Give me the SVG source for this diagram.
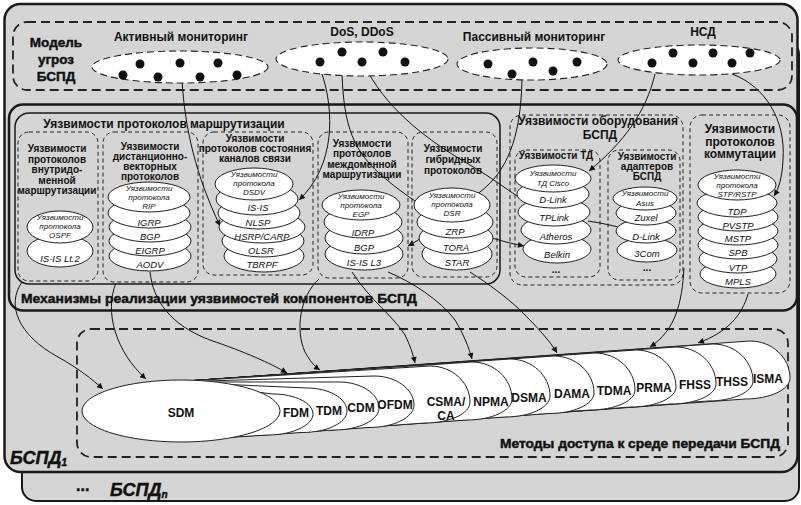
<svg xmlns="http://www.w3.org/2000/svg" width="801" height="505" viewBox="0 0 801 505">
<defs>
<style>
.bx{fill:#d5d5d5;stroke:#1a1a1a}
.ln{fill:none;stroke:#1a1a1a}
.dash{fill:none;stroke:#222;stroke-width:1;stroke-dasharray:4 3}
.dash2{fill:none;stroke:#222;stroke-width:1.8;stroke-dasharray:9 5}
.dash3{fill:#fff;stroke:#222;stroke-width:1.1;stroke-dasharray:7 4}
.st{fill:#fff;stroke:#222;stroke-width:1}
.te{font-family:"Liberation Sans",Arial,sans-serif;font-style:italic;font-size:9.5px;text-anchor:middle;fill:#111}
.tm{font-family:"Liberation Sans",Arial,sans-serif;font-style:italic;font-size:8px;text-anchor:middle;fill:#111}
.hd{font-family:"Liberation Sans",Arial,sans-serif;font-weight:bold;font-size:10px;text-anchor:middle;fill:#111}
.ti{font-family:"Liberation Sans",Arial,sans-serif;font-weight:bold;font-size:12px;text-anchor:middle;fill:#111}
.big{font-family:"Liberation Sans",Arial,sans-serif;font-weight:bold;fill:#111;stroke:#111;stroke-width:0.45}
.ac{font-family:"Liberation Sans",Arial,sans-serif;font-weight:bold;font-size:12px;text-anchor:middle;fill:#111}
.cn{fill:none;stroke:#111;stroke-width:1}
.dot{fill:#111}
</style>
<marker id="ah" viewBox="0 0 10 10" refX="10" refY="5" markerWidth="8" markerHeight="6" orient="auto" markerUnits="userSpaceOnUse"><path d="M0,0 L10,5 L0,10 z" fill="#111"/></marker>
</defs>
<rect x="0" y="0" width="801" height="505" fill="#fff"/>

<g id="bspd-n">
<rect class="bx" x="22" y="40" width="777" height="461" rx="14" stroke-width="2"/>
<text class="big" x="76" y="491" font-size="16">...</text>
<text class="big" x="110" y="496" font-size="18" font-style="italic">БСПД<tspan font-size="10" dy="2">n</tspan></text>
</g>

<g id="bspd-1">
<rect class="bx" x="4.5" y="4" width="793" height="468" rx="16" stroke-width="2.5"/>
<text class="big" x="10" y="464" font-size="18" font-style="italic">БСПД<tspan font-size="10" dy="2">1</tspan></text>
</g>

<g id="threat-model">
<rect class="dash2" x="13" y="22" width="779" height="68" rx="14"/>
<text class="big" x="56" y="47" font-size="13.5" text-anchor="middle">Модель</text>
<text class="big" x="56" y="64" font-size="13.5" text-anchor="middle">угроз</text>
<text class="big" x="56" y="81" font-size="13.5" text-anchor="middle">БСПД</text>
</g>

<g id="mechanisms">
<rect class="ln" x="9" y="104.5" width="788" height="206" rx="14" stroke-width="2.5"/>
<text class="big" x="21" y="303" font-size="13.5" textLength="396" lengthAdjust="spacingAndGlyphs">Механизмы реализации уязвимостей компонентов БСПД</text>
</g>

<g id="routing">
<rect class="ln" x="15" y="113" width="485" height="171" rx="14" stroke-width="1.5"/>
<text class="ti" x="164" y="128" font-size="11.5">Уязвимости протоколов маршрутизации</text>
</g>

<g id="access-methods">
<rect class="dash2" x="77" y="329" width="711" height="128" rx="14"/>
<text class="big" x="780" y="448" font-size="12.5" text-anchor="end" textLength="280" lengthAdjust="spacingAndGlyphs">Методы доступа к среде передачи БСПД</text>
</g>

<g id="connectors">
<path class="cn" d="M182,80 C185,130 196,175 220,226" marker-end="url(#ah)"/>
<path class="cn" d="M322,74 C334,110 336,165 299,200" marker-end="url(#ah)"/>
<path class="cn" d="M342,74 C344,125 352,152 387,180 C420,208 470,236 524,246" marker-end="url(#ah)"/>
<path class="cn" d="M368,72 C390,112 430,142 470,165 C492,178 505,188 517,196"/>
<path class="cn" d="M522,78 C521,140 506,172 480,192 C455,212 432,233 408,246" marker-end="url(#ah)"/>
<path class="cn" d="M588,221 C602,223 614,226 627,229" marker-end="url(#ah)"/>
<path class="cn" d="M655,74 C646,112 624,142 589,171" marker-end="url(#ah)"/>
<path class="cn" d="M732,74 C765,86 786,120 783,160 C782,178 779,188 774,196" marker-end="url(#ah)"/>
<path class="cn" d="M22,282 C6,305 18,335 58,357 C78,368 93,380 103,389" marker-end="url(#ah)"/>
<path class="cn" d="M116,283 C104,312 116,352 146,379" marker-end="url(#ah)"/>
<path class="cn" d="M150,272 C153,300 170,325 210,340 C245,352 270,363 287,373" marker-end="url(#ah)"/>
<path class="cn" d="M319,279 C300,296 295,330 305,352 C310,361 314,366 320,370" marker-end="url(#ah)"/>
<path class="cn" d="M352,272 C370,300 395,318 405,335 C410,345 413,354 415,363" marker-end="url(#ah)"/>
<path class="cn" d="M388,272 C412,282 440,300 455,320 C464,335 469,348 472,359" marker-end="url(#ah)"/>
<path class="cn" d="M470,272 C490,285 505,296 520,310 C538,328 550,341 557,353" marker-end="url(#ah)"/>
<path class="cn" d="M684,268 C682,302 676,330 650,347" marker-end="url(#ah)"/>
<path class="cn" d="M748,294 C742,315 728,332 698,343" marker-end="url(#ah)"/>
</g>

<g id="active-monitoring">
<text class="ti" x="181" y="41">Активный мониторинг</text>
<ellipse class="dash3" cx="180" cy="67" rx="88" ry="16"/>
<circle class="dot" cx="123" cy="75" r="4.5"/><circle class="dot" cx="140" cy="64" r="4.5"/><circle class="dot" cx="158" cy="77" r="4.5"/><circle class="dot" cx="180" cy="63" r="4.5"/><circle class="dot" cx="200" cy="77" r="4.5"/><circle class="dot" cx="218" cy="63" r="4.5"/><circle class="dot" cx="237" cy="75" r="4.5"/>
</g>
<g id="dos">
<text class="ti" x="362" y="36">DoS, DDoS</text>
<ellipse class="dash3" cx="362" cy="59" rx="86" ry="17"/>
<circle class="dot" cx="320" cy="62" r="4.5"/><circle class="dot" cx="342" cy="52" r="4.5"/><circle class="dot" cx="362" cy="62" r="4.5"/><circle class="dot" cx="383" cy="52" r="4.5"/><circle class="dot" cx="405" cy="62" r="4.5"/>
</g>
<g id="passive-monitoring">
<text class="ti" x="534" y="41">Пассивный мониторинг</text>
<ellipse class="dash3" cx="532" cy="64" rx="75" ry="16"/>
<circle class="dot" cx="488" cy="64" r="4.5"/><circle class="dot" cx="512" cy="74" r="4.5"/><circle class="dot" cx="533" cy="62" r="4.5"/><circle class="dot" cx="553" cy="71" r="4.5"/><circle class="dot" cx="577" cy="62" r="4.5"/>
</g>
<g id="nsd">
<text class="ti" x="703" y="36">НСД</text>
<ellipse class="dash3" cx="699" cy="60" rx="81" ry="15"/>
<circle class="dot" cx="652" cy="63" r="4.5"/><circle class="dot" cx="673" cy="53" r="4.5"/><circle class="dot" cx="693" cy="63" r="4.5"/><circle class="dot" cx="713" cy="53" r="4.5"/><circle class="dot" cx="732" cy="63" r="4.5"/><circle class="dot" cx="750" cy="53" r="4.5"/>
</g>

<g id="intradomain">
<rect class="dash" x="18" y="132" width="80" height="149" rx="11"/>
<text class="hd" x="57" y="152" font-size="9.5">Уязвимости</text>
<text class="hd" x="57" y="162.5" font-size="9.5">протоколов</text>
<text class="hd" x="57" y="173" font-size="9.5">внутридо-</text>
<text class="hd" x="57" y="183.5" font-size="9.5">менной</text>
<text class="hd" x="57" y="194" font-size="9.5">маршрутизации</text>
<ellipse class="st" cx="60" cy="251" rx="33" ry="16"/><text class="te" x="60" y="262">IS-IS Lt.2</text>
<ellipse class="st" cx="60" cy="227" rx="33" ry="16"/>
<text class="tm" x="60" y="219.5">Уязвимости</text><text class="tm" x="60" y="228.7">протокола</text><text class="tm" x="60" y="237.9">OSPF</text>
</g>

<g id="distance-vector">
<rect class="dash" x="103" y="132" width="95" height="150" rx="11"/>
<text class="hd" x="150" y="149.5">Уязвимости</text>
<text class="hd" x="150" y="159.5">дистанционно-</text>
<text class="hd" x="150" y="169.5">векторных</text>
<text class="hd" x="150" y="179.5">протоколов</text>
<ellipse class="st" cx="150" cy="256" rx="41" ry="15"/><text class="te" x="150" y="268">AODV</text>
<ellipse class="st" cx="150" cy="241" rx="41" ry="15"/><text class="te" x="150" y="254">EIGRP</text>
<ellipse class="st" cx="150" cy="227" rx="41" ry="15"/><text class="te" x="150" y="240">BGP</text>
<ellipse class="st" cx="149" cy="213" rx="41" ry="15"/><text class="te" x="149" y="226">IGRP</text>
<ellipse class="st" cx="149" cy="197" rx="41" ry="15"/>
<text class="tm" x="149" y="190.5">Уязвимости</text><text class="tm" x="149" y="199.7">протокола</text><text class="tm" x="149" y="208.9">RIP</text>
</g>

<g id="link-state">
<rect class="dash" x="203" y="132" width="110" height="143" rx="11"/>
<text class="hd" x="255" y="142" font-size="9.5">Уязвимости</text>
<text class="hd" x="255" y="152" font-size="9.5">протоколов состояния</text>
<text class="hd" x="255" y="162" font-size="9.5">каналов связи</text>
<ellipse class="st" cx="264" cy="256" rx="40" ry="16"/><text class="te" x="262" y="268">TBRPF</text>
<ellipse class="st" cx="263" cy="241" rx="41" ry="16"/><text class="te" x="261" y="254">OLSR</text>
<ellipse class="st" cx="262" cy="227" rx="43" ry="16"/><text class="te" x="262" y="240">HSRP/CARP</text>
<ellipse class="st" cx="259" cy="213" rx="41" ry="16"/><text class="te" x="258" y="226">NLSP</text>
<ellipse class="st" cx="257" cy="199" rx="41" ry="16"/><text class="te" x="258" y="211">IS-IS</text>
<ellipse class="st" cx="254" cy="184" rx="39" ry="16"/>
<text class="tm" x="254" y="176.5">Уязвимости</text><text class="tm" x="254" y="185.7">протокола</text><text class="tm" x="254" y="194.9">DSDV</text>
</g>

<g id="interdomain">
<rect class="dash" x="318" y="132" width="90" height="146" rx="11"/>
<text class="hd" x="362" y="147" font-size="9.5">Уязвимости</text>
<text class="hd" x="362" y="157" font-size="9.5">протоколов</text>
<text class="hd" x="362" y="167.5" font-size="9.5">междоменной</text>
<text class="hd" x="362" y="178" font-size="9.5">маршрутизации</text>
<ellipse class="st" cx="364" cy="254" rx="39" ry="16"/><text class="te" x="364" y="266">IS-IS L3</text>
<ellipse class="st" cx="364" cy="238" rx="39" ry="16"/><text class="te" x="364" y="251">BGP</text>
<ellipse class="st" cx="363" cy="222" rx="39" ry="16"/><text class="te" x="363" y="236">IDRP</text>
<ellipse class="st" cx="361" cy="205" rx="39" ry="15"/>
<text class="tm" x="361" y="199">Уязвимости</text><text class="tm" x="361" y="208.2">протокола</text><text class="tm" x="361" y="217.4">EGP</text>
</g>

<g id="hybrid">
<rect class="dash" x="412" y="132" width="85" height="145" rx="11"/>
<text class="hd" x="453" y="152" font-size="10.5">Уязвимости</text>
<text class="hd" x="453" y="163" font-size="10.5">гибридных</text>
<text class="hd" x="453" y="174" font-size="10.5">протоколов</text>
<ellipse class="st" cx="457" cy="254" rx="35" ry="16"/><text class="te" x="457" y="266">STAR</text>
<ellipse class="st" cx="456" cy="238" rx="37" ry="16"/><text class="te" x="456" y="251">TORA</text>
<ellipse class="st" cx="455" cy="222" rx="38" ry="16"/><text class="te" x="455" y="235">ZRP</text>
<ellipse class="st" cx="452" cy="205" rx="38" ry="17"/>
<text class="tm" x="452" y="198">Уязвимости</text><text class="tm" x="452" y="207.2">протокола</text><text class="tm" x="452" y="216.4">DSR</text>
</g>

<g id="equipment">
<rect class="dash" x="510" y="115" width="173" height="170" rx="12"/>
<text class="ti" x="598" y="125" font-size="11.2">Уязвимости оборудования</text>
<text class="ti" x="600" y="138.5" font-size="11.2">БСПД</text>
</g>

<g id="access-points">
<rect class="dash" x="515" y="150" width="85" height="127" rx="11"/>
<text class="hd" x="556" y="159" font-size="9.5">Уязвимости ТД</text>
<ellipse class="st" cx="557" cy="249" rx="34" ry="14"/><text class="te" x="557" y="258">Belkin</text>
<ellipse class="st" cx="556" cy="230" rx="35" ry="14"/><text class="te" x="556" y="240">Atheros</text>
<ellipse class="st" cx="554" cy="212" rx="36" ry="14"/><text class="te" x="554" y="221">TPLink</text>
<ellipse class="st" cx="553" cy="194" rx="36" ry="14"/><text class="te" x="553" y="203">D-Link</text>
<ellipse class="st" cx="553" cy="178.5" rx="38" ry="13.5"/>
<text class="tm" x="553" y="176">Уязвимости</text><text class="tm" x="553" y="186">ТД Cisco</text>
<text class="hd" x="556" y="273" font-size="12">...</text>
</g>

<g id="adapters">
<rect class="dash" x="608" y="150" width="72" height="130" rx="11"/>
<text class="hd" x="647" y="160" font-size="8.5">Уязвимости</text>
<text class="hd" x="647" y="170" font-size="8.5">адаптеров</text>
<text class="hd" x="647" y="180" font-size="8.5">БСПД</text>
<ellipse class="st" cx="647" cy="250" rx="30" ry="12"/><text class="te" x="647" y="257">3Com</text>
<ellipse class="st" cx="646" cy="231" rx="30" ry="12"/><text class="te" x="646" y="240">D-Link</text>
<ellipse class="st" cx="646" cy="213" rx="30" ry="12"/><text class="te" x="646" y="221">Zuxel</text>
<ellipse class="st" cx="645" cy="198.5" rx="32" ry="11.5"/>
<text class="tm" x="645" y="196">Уязвимости</text><text class="tm" x="645" y="205.5">Asus</text>
<text class="hd" x="647" y="271" font-size="12">...</text>
</g>

<g id="switching">
<rect class="dash" x="690" y="115" width="100" height="178" rx="12"/>
<text class="ti" x="740" y="133" font-size="10.5">Уязвимости</text>
<text class="ti" x="740" y="145.5" font-size="10.5">протоколов</text>
<text class="ti" x="740" y="158" font-size="10.5">коммутации</text>
<ellipse class="st" cx="738" cy="274" rx="38" ry="14"/><text class="te" x="738" y="285">MPLS</text>
<ellipse class="st" cx="738" cy="259" rx="39" ry="14"/><text class="te" x="738" y="271">VTP</text>
<ellipse class="st" cx="738" cy="245" rx="40" ry="14"/><text class="te" x="738" y="256">SPB</text>
<ellipse class="st" cx="738" cy="231" rx="40" ry="14"/><text class="te" x="738" y="242">MSTP</text>
<ellipse class="st" cx="738" cy="217" rx="40" ry="14"/><text class="te" x="738" y="229">PVSTP</text>
<ellipse class="st" cx="737" cy="203" rx="40" ry="14"/><text class="te" x="737" y="215">TDP</text>
<ellipse class="st" cx="737" cy="185" rx="39" ry="15"/>
<text class="tm" x="737" y="179">Уязвимости</text><text class="tm" x="737" y="188.2">протокола</text><text class="tm" x="737" y="197.4">STP/RSTP</text>
</g>

<g id="access-ellipses">
<path id="isma" class="st" d="M172,382 L750,341 C772,341 790,357.6 790,378 C790,389.6 770,399 745,399 L170,441 L120,425 L120,395 Z"/>
<path id="thss" class="st" d="M172,382 L713,344 C735,344 753,360.7 753,381 C753,392 733,401 708,401 L170,441 L120,425 L120,395 Z"/>
<path id="fhss" class="st" d="M172,382 L676,347 C698,347 716,363.7 716,384 C716,395 696,404 671,404 L170,441 L120,425 L120,395 Z"/>
<path id="prma" class="st" d="M172,382 L636,350 C658,350 676,366.7 676,387 C676,398 656,407 631,407 L170,441 L120,425 L120,395 Z"/>
<path id="tdma" class="st" d="M172,382 L595,353 C617,353 635,369.7 635,390 C635,401 615,410 590,410 L170,441 L120,425 L120,395 Z"/>
<path id="dama" class="st" d="M172,382 L554,356 C576,356 594,372.7 594,393 C594,404.3 574,413.5 549,413.5 L170,441 L120,425 L120,395 Z"/>
<path id="dsma" class="st" d="M172,382 L510,359 C532,359 550,375.7 550,396 C550,407.6 530,417 505,417 L170,441 L120,425 L120,395 Z"/>
<path id="npma" class="st" d="M172,382 L472,362 C494,362 512,378.7 512,399 C512,410.6 492,420 467,420 L170,441 L120,425 L120,395 Z"/>
<path id="csma" class="st" d="M172,382 L430,366 C452,366 470,382.2 470,402 C470,413.6 450,423 425,423 L170,441 L120,425 L120,395 Z"/>
<path id="ofdm" class="st" d="M172,382 L374,376 C396,376 414,389 414,405 C414,417.4 394,427.5 369,427.5 L170,441 L120,425 L120,395 Z"/>
<path id="cdm" class="st" d="M172,382 L339,382 C361,382 379,393.7 379,408 C379,420.1 359,430 334,430 L170,441 L120,425 L120,395 Z"/>
<path id="tdm" class="st" d="M172,382 L307,388 C329,388 347,398.4 347,411 C347,422.8 327,432.5 302,432.5 L170,441 L120,425 L120,395 Z"/>
<path id="fdm" class="st" d="M172,382 L273,394 C295,394 313,403 313,414 C313,425 293,435 268,435 L170,441 L120,425 L120,395 Z"/>
<ellipse id="sdm" class="st" cx="181" cy="411" rx="99" ry="31"/>
<text class="ac" x="181" y="417" font-size="15">SDM</text>
<text class="ac" x="296" y="417">FDM</text>
<text class="ac" x="329" y="415">TDM</text>
<text class="ac" x="361" y="412">CDM</text>
<text class="ac" x="395" y="409" font-size="11.5">OFDM</text>
<text class="ac" x="446" y="405.5" font-size="11.5">CSMA/</text>
<text class="ac" x="446" y="419.5" font-size="11.5">CA</text>
<text class="ac" x="491" y="406">NPMA</text>
<text class="ac" x="529" y="402">DSMA</text>
<text class="ac" x="572" y="398">DAMA</text>
<text class="ac" x="614" y="395">TDMA</text>
<text class="ac" x="654" y="392">PRMA</text>
<text class="ac" x="695" y="389">FHSS</text>
<text class="ac" x="732" y="386">THSS</text>
<text class="ac" x="768" y="383">ISMA</text>
</g>
</svg>
